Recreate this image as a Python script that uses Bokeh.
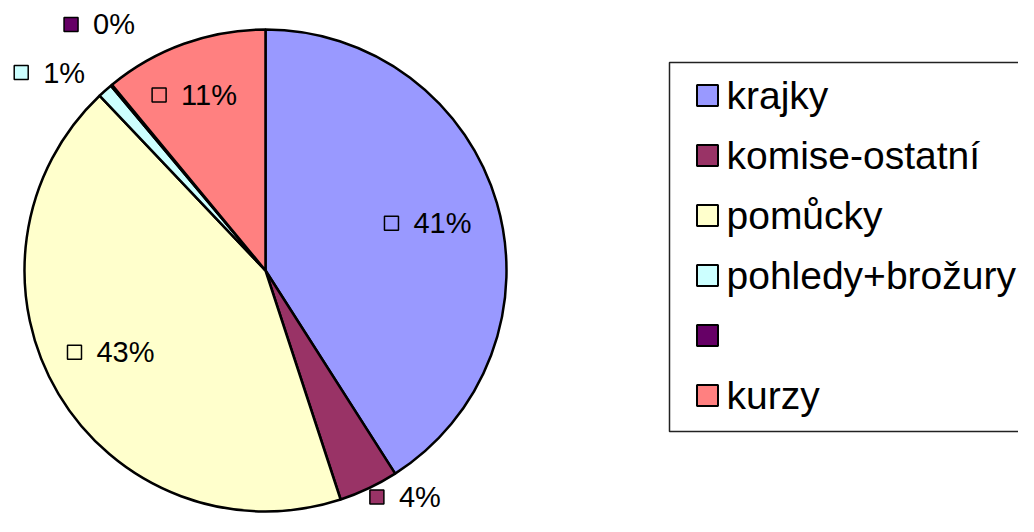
import math
import numpy as np
from bokeh.plotting import figure
from bokeh.models import Range1d, ColumnDataSource
from bokeh.core.properties import value
from bokeh.embed import file_html
from bokeh.resources import INLINE

# ---- data ----
categories = ["krajky", "komise-ostatní", "pomůcky", "pohledy+brožury", "", "kurzy"]
values = [41, 4, 43, 1, 0.1, 11]
colors = ["#9999FF", "#993366", "#FFFFCC", "#CCFFFF", "#660066", "#FF8080"]

# ---- layout / style ----
FONT = "Liberation Sans"
W, H = 1018, 516
CX, CY, R = 265, 262, 241          # pie centre / radius (px units, y up)
label_radius = [169, 266, 175, 293, 297, 189]
label_turn = [0, -6.3, 3, -5.8, 5.7, -2]   # degrees, label nudge
LBL_FS = 29
LEG_FS = 39

p = figure(width=W, height=H, x_range=Range1d(0, W), y_range=Range1d(532 - H, 532),
           output_backend="svg", toolbar_location=None, min_border=0,
           x_axis_location=None, y_axis_location=None)
p.grid.visible = False
p.outline_line_color = None
p.background_fill_color = "white"

total = float(sum(values))
cum = np.concatenate([[0.0], np.cumsum(values)]) / total
start = math.pi / 2 - cum[:-1] * 2 * math.pi
end = math.pi / 2 - cum[1:] * 2 * math.pi

src = ColumnDataSource(dict(start=start, end=end, color=colors, cat=categories,
                            x=[CX] * len(values), y=[CY] * len(values)))
p.wedge(x="x", y="y", radius=R, start_angle="start", end_angle="end", direction="clock",
        fill_color="color", line_color="black", line_width=2.5, source=src)

# ---- data labels ----
pcts = [f"{round(v / total * 100):.0f}%" for v in values]
mids = (cum[:-1] + cum[1:]) / 2 * 360 + np.array(label_turn)
sq_x, sq_y, tx = [], [], []
for i, t in enumerate(pcts):
    th = math.radians(mids[i])
    gx = CX + label_radius[i] * math.sin(th)
    gy = CY + label_radius[i] * math.cos(th)
    tw = (0.556 * (len(t) - 1) + 0.889) * LBL_FS
    wgrp = 29.5 + tw
    left = gx - wgrp / 2
    sq_x.append(left + 7.5)
    sq_y.append(gy)
    tx.append(left + 29.5)
p.scatter(sq_x, sq_y, marker="square", size=14, fill_color=colors,
          line_color="black", line_width=1.5)
p.text(tx, sq_y, text=pcts, text_font=value(FONT), text_font_size=f"{LBL_FS}px",
       text_align="left", text_baseline="middle", text_color="black")

# ---- legend (drawn manually) ----
p.quad(left=[669], right=[1060], top=[532 - 62], bottom=[532 - 431],
       fill_color="white", line_color="#222222", line_width=1.5)
n = len(categories)
ly = [532 - (95 + 60 * i) for i in range(n)]
p.scatter([707] * n, ly, marker="square", size=21, fill_color=colors,
          line_color="black", line_width=2)
p.text([726] * n, ly, text=categories, text_font=value(FONT),
       text_font_size=f"{LEG_FS}px", text_align="left", text_baseline="middle",
       text_color="black")

open("out.html", "w").write(file_html(p, INLINE))
